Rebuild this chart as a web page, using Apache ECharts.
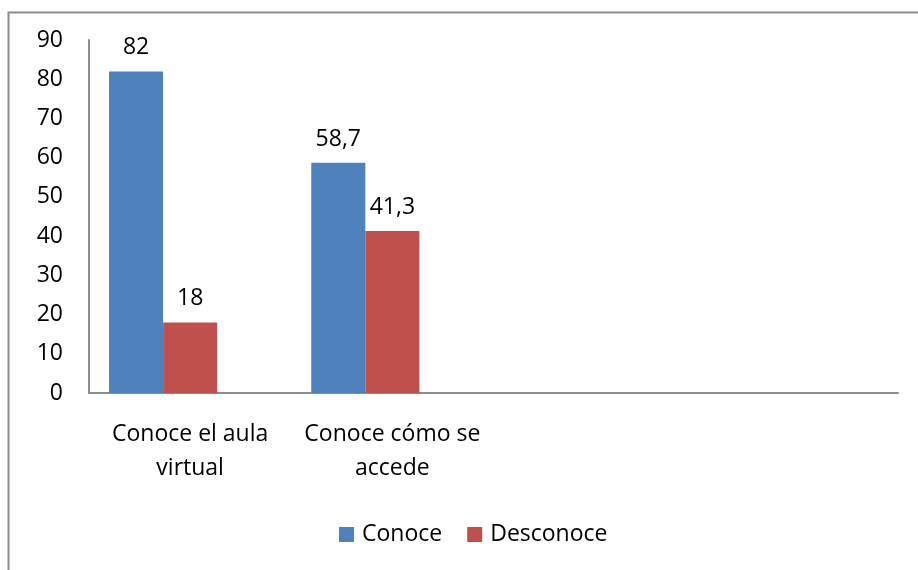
<!DOCTYPE html>
<html><head><meta charset="utf-8">
<script src="https://cdn.jsdelivr.net/npm/echarts@6/dist/echarts.min.js"></script>
<style>html,body{margin:0;padding:0;background:#fff}#c{width:918px;height:570px}</style>
</head><body><div id="c"></div>
<script>
var categories = ['Conoce el aula\nvirtual', 'Conoce cómo se\naccede', '', ''];
var conoce = [82, 58.7, null, null];
var desconoce = [18, 41.3, null, null];
var serie3 = [null, null, null, null];
var yTicks = [0, 10, 20, 30, 40, 50, 60, 70, 80, 90];

var chart = echarts.init(document.getElementById('c'));
var fnt = '"Open Sans", "Liberation Sans", sans-serif';
var lbl = {
  show: true, position: 'top', distance: 12, color: '#000', fontSize: 23, fontFamily: fnt,
  formatter: function (p) { return p.value == null ? '' : String(p.value).replace('.', ','); }
};
chart.setOption({
  animation: false,
  graphic: [{ type: 'rect', shape: { x: 8.5, y: 12.5, width: 1000, height: 1000 },
    style: { fill: 'none', stroke: '#8c8c8c', lineWidth: 2 }, z: -1 }],
  grid: { left: 89, right: 20, top: 40, bottom: 177 },
  legend: {
    bottom: 19, left: 334, itemWidth: 15, itemHeight: 15, itemGap: 25,
    icon: 'rect', textStyle: { fontSize: 23, fontFamily: fnt, color: '#000', padding: [0, 0, 0, 3] },
    data: ['Conoce', 'Desconoce']
  },
  xAxis: {
    type: 'category', data: categories,
    axisLine: { lineStyle: { color: '#8c8c8c', width: 2 } },
    axisTick: { show: false },
    axisLabel: { color: '#000', fontSize: 23, fontFamily: fnt, lineHeight: 34, margin: 24, interval: 0 }
  },
  yAxis: {
    type: 'value', min: 0, max: 90, interval: 10,
    axisLine: { show: true, lineStyle: { color: '#8c8c8c', width: 2 } },
    axisTick: { show: false },
    splitLine: { show: false },
    axisLabel: { color: '#000', fontSize: 23, fontFamily: fnt, margin: 26,
      formatter: function (v) { return yTicks.indexOf(v) >= 0 ? String(v) : ''; } }
  },
  series: [
    { name: 'Conoce', type: 'bar', data: conoce, barGap: '0%', barCategoryGap: '19.8%',
      itemStyle: { color: '#4f81bd' }, label: lbl },
    { name: 'Desconoce', type: 'bar', data: desconoce,
      itemStyle: { color: '#c0504d' }, label: lbl },
    { name: 'Serie3', type: 'bar', data: serie3, itemStyle: { color: '#9bbb59' } }
  ]
});
</script></body></html>
